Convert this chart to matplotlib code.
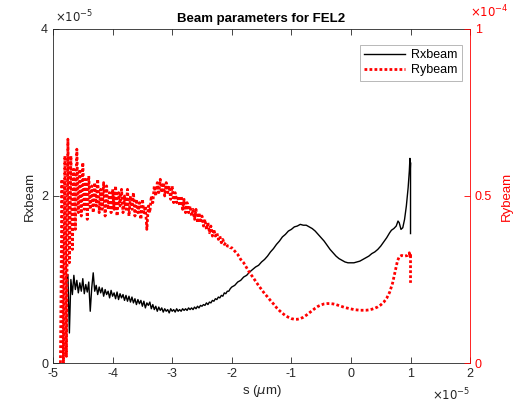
import matplotlib
matplotlib.use("Agg")
import matplotlib.pyplot as plt
import numpy as np

plt.rcParams["font.family"] = ["Liberation Sans", "DejaVu Sans"]

# ── data (s in units of 1e-5, Rxbeam in 1e-5, Rybeam in 1e-4) ─────────────────

# Rxbeam, noisy head: uniform samples from s=-4.775 to s=-2.025
rx_head_range = (-4.775, -2.025)
rx_head = [
    0.98, 1.06, 0.36, 1.00, 0.82, 1.05, 0.88, 0.99, 0.84, 0.96,
    0.86, 1.01, 0.83, 0.94, 0.85, 0.97, 0.62, 0.90, 1.08, 0.86,
    0.93, 0.82, 0.91, 0.84, 0.90, 0.80, 0.88, 0.82, 0.86, 0.78,
    0.87, 0.80, 0.84, 0.77, 0.85, 0.76, 0.83, 0.78, 0.82, 0.75,
    0.81, 0.74, 0.80, 0.73, 0.79, 0.72, 0.77, 0.70, 0.76, 0.71,
    0.75, 0.68, 0.74, 0.66, 0.72, 0.69, 0.73, 0.65, 0.70, 0.64,
    0.68, 0.62, 0.67, 0.63, 0.66, 0.61, 0.65, 0.62, 0.64, 0.60,
    0.65, 0.62, 0.64, 0.61, 0.65, 0.62, 0.64, 0.62, 0.65, 0.63,
    0.65, 0.63, 0.66, 0.64, 0.66, 0.64, 0.67, 0.65, 0.68, 0.66,
    0.69, 0.68, 0.70, 0.69, 0.72, 0.70, 0.73, 0.72, 0.75, 0.74,
    0.77, 0.76, 0.79, 0.78, 0.81, 0.80, 0.84, 0.83, 0.86, 0.86,
    0.89,
]

# Rxbeam, smooth tail
rx_tail_s = [
    -2.00, -1.95, -1.90, -1.85, -1.80, -1.75, -1.70, -1.65, -1.60, -1.55,
    -1.50, -1.45, -1.40, -1.35, -1.30, -1.25, -1.20, -1.15, -1.10, -1.05,
    -1.00, -0.95, -0.90, -0.85, -0.80, -0.75, -0.70, -0.65, -0.60, -0.55,
    -0.50, -0.45, -0.40, -0.35, -0.30, -0.25, -0.20, -0.15, -0.10, -0.05,
    0.00, 0.05, 0.10, 0.15, 0.20, 0.25, 0.30, 0.35, 0.40, 0.45,
    0.50, 0.55, 0.60, 0.65, 0.68, 0.72, 0.76, 0.79, 0.81, 0.84,
    0.87, 0.90, 0.93, 0.96, 0.98, 0.99, 0.995, 1.00, 1.00,
]
rx_tail = [
    0.91, 0.93, 0.97, 0.99, 1.03, 1.05, 1.09, 1.12, 1.15, 1.17,
    1.21, 1.24, 1.28, 1.33, 1.37, 1.42, 1.46, 1.51, 1.54, 1.58,
    1.60, 1.63, 1.64, 1.66, 1.65, 1.65, 1.63, 1.61, 1.58, 1.54,
    1.50, 1.46, 1.41, 1.36, 1.32, 1.28, 1.25, 1.23, 1.21, 1.20,
    1.20, 1.20, 1.21, 1.22, 1.24, 1.26, 1.28, 1.31, 1.33, 1.36,
    1.40, 1.45, 1.50, 1.56, 1.59, 1.61, 1.64, 1.70, 1.68, 1.60,
    1.62, 1.72, 1.88, 2.10, 2.30, 2.45, 2.30, 2.40, 1.55,
]

# Rybeam, noisy head: uniform samples from s=-4.875 to s=-2.025
ry_head_range = (-4.875, -2.025)
ry_head = [
    0.00, 0.55, 0.00, 0.62, 0.02, 0.67, 0.30, 0.62, 0.34, 0.58,
    0.40, 0.64, 0.45, 0.58, 0.44, 0.60, 0.46, 0.55, 0.43, 0.56,
    0.46, 0.53, 0.45, 0.54, 0.47, 0.55, 0.45, 0.52, 0.46, 0.54,
    0.44, 0.53, 0.46, 0.51, 0.45, 0.52, 0.46, 0.53, 0.44, 0.51,
    0.47, 0.52, 0.45, 0.50, 0.46, 0.52, 0.44, 0.50, 0.46, 0.51,
    0.44, 0.49, 0.45, 0.48, 0.43, 0.49, 0.45, 0.47, 0.40, 0.47,
    0.45, 0.50, 0.48, 0.53, 0.50, 0.54, 0.51, 0.55, 0.51, 0.54,
    0.50, 0.54, 0.51, 0.53, 0.49, 0.53, 0.48, 0.51, 0.48, 0.50,
    0.47, 0.50, 0.46, 0.49, 0.45, 0.48, 0.45, 0.47, 0.44, 0.46,
    0.43, 0.46, 0.42, 0.45, 0.42, 0.44, 0.41, 0.43, 0.40, 0.42,
    0.39, 0.41, 0.38, 0.40, 0.38, 0.39, 0.37, 0.38, 0.36, 0.37,
    0.355, 0.36, 0.35, 0.35, 0.345,
]

# Rybeam, smooth tail
ry_tail_s = [
    -2.00, -1.95, -1.90, -1.85, -1.80, -1.75, -1.70, -1.65, -1.60, -1.55,
    -1.50, -1.45, -1.40, -1.35, -1.30, -1.25, -1.20, -1.15, -1.10, -1.05,
    -1.00, -0.95, -0.90, -0.85, -0.80, -0.75, -0.70, -0.65, -0.60, -0.55,
    -0.50, -0.45, -0.40, -0.35, -0.30, -0.25, -0.20, -0.15, -0.10, -0.05,
    0.00, 0.05, 0.10, 0.15, 0.20, 0.25, 0.30, 0.35, 0.40, 0.45,
    0.50, 0.55, 0.60, 0.65, 0.70, 0.75, 0.78, 0.81, 0.85, 0.90,
    0.95, 0.98, 0.99, 1.00, 1.00,
]
ry_tail = [
    0.345, 0.335, 0.325, 0.31, 0.30, 0.285, 0.27, 0.258, 0.245, 0.232,
    0.22, 0.208, 0.198, 0.187, 0.177, 0.166, 0.157, 0.149, 0.142, 0.137,
    0.133, 0.131, 0.131, 0.133, 0.137, 0.143, 0.150, 0.157, 0.164, 0.170,
    0.174, 0.177, 0.178, 0.178, 0.177, 0.175, 0.172, 0.169, 0.166, 0.164,
    0.162, 0.160, 0.159, 0.158, 0.158, 0.158, 0.159, 0.161, 0.164, 0.168,
    0.174, 0.182, 0.194, 0.212, 0.240, 0.280, 0.305, 0.318, 0.322, 0.320,
    0.322, 0.330, 0.318, 0.328, 0.240,
]

# ── assemble ──────────────────────────────────────────────────────────────────

s_rx = np.concatenate([np.linspace(*rx_head_range, len(rx_head)), rx_tail_s]) * 1e-5
rx = np.concatenate([rx_head, rx_tail]) * 1e-5
s_ry = np.concatenate([np.linspace(*ry_head_range, len(ry_head)), ry_tail_s]) * 1e-5
ry = np.concatenate([ry_head, ry_tail]) * 1e-4

# ── plot ──────────────────────────────────────────────────────────────────────

axis_col = "#262626"
red = "#ff0000"

fig = plt.figure(figsize=(5.30, 4.07), dpi=100)
ax = fig.add_axes([0.100, 0.108, 0.787, 0.821])
ax2 = ax.twinx()

l1, = ax.plot(s_rx, rx, color="black", lw=1.0, label="Rxbeam")
l2, = ax2.plot(s_ry, ry, color=red, lw=2.0, dashes=(1.0, 0.8), label="Rybeam")

ax.set_xlim(-5e-5, 2e-5)
ax.set_ylim(0, 4e-5)
ax2.set_ylim(0, 1e-4)

ax.set_xticks(np.arange(-5, 3) * 1e-5)
ax.set_xticklabels([str(v) for v in range(-5, 3)])
ax.set_yticks([0, 2e-5, 4e-5])
ax.set_yticklabels(["0", "2", "4"])
ax2.set_yticks([0, 0.5e-4, 1e-4])
ax2.set_yticklabels(["0", "0.5", "1"])

ax.tick_params(direction="in", top=True, labelsize=9, colors=axis_col, length=4, width=0.6)
ax.tick_params(axis="y", right=False)
ax2.tick_params(direction="in", labelsize=9, colors=red, length=4, width=0.6)

for sp in ("left", "top", "bottom"):
    ax.spines[sp].set_color(axis_col)
    ax.spines[sp].set_linewidth(0.6)
for sp in ("left", "top", "bottom"):
    ax2.spines[sp].set_visible(False)
ax2.spines["right"].set_color(red)
ax2.spines["right"].set_linewidth(0.6)
ax.spines["right"].set_visible(False)

ax.set_xlabel(r"s ($\mu$m)", fontsize=9.5, color=axis_col, labelpad=2)
ax.set_ylabel("Rxbeam", fontsize=9.5, color=axis_col, labelpad=4)
ax2.set_ylabel("Rybeam", fontsize=9.5, color=red, labelpad=6)
ax.set_title("Beam parameters for FEL2", fontsize=9.5, fontweight="bold",
             color="black", pad=5)

# exponent labels
ax.text(0.005, 1.012, r"$\times10^{-5}$", transform=ax.transAxes, fontsize=8.5,
        color=axis_col, ha="left", va="bottom")
ax.text(1.0, 1.025, r"$\times10^{-4}$", transform=ax.transAxes, fontsize=8.5,
        color=red, ha="left", va="bottom")
ax.text(1.0, -0.072, r"$\times10^{-5}$", transform=ax.transAxes, fontsize=8.5,
        color=axis_col, ha="right", va="top")

leg = ax.legend(handles=[l1, l2], loc="upper right", bbox_to_anchor=(0.981, 0.952),
                fontsize=9, frameon=True, fancybox=False, edgecolor="#999999",
                handlelength=3.3, borderaxespad=0.0, borderpad=0.35,
                labelspacing=0.25, handletextpad=0.5)
leg.get_frame().set_linewidth(0.6)

fig.savefig("out.png", dpi=100)
